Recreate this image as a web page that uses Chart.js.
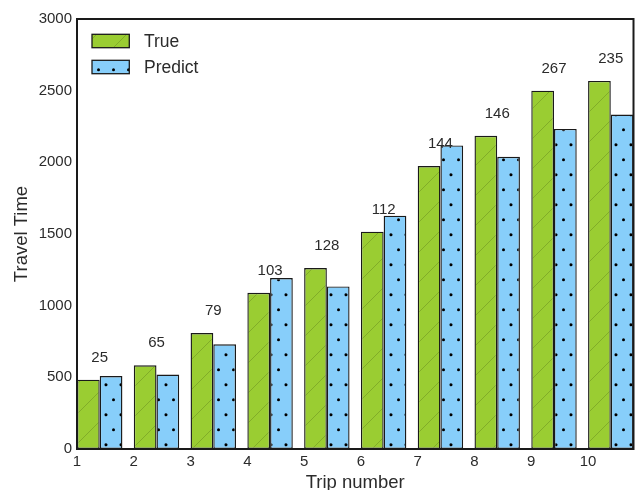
<!DOCTYPE html>
<html>
<head>
<meta charset="utf-8">
<script src="https://cdn.jsdelivr.net/npm/chart.js@4/dist/chart.umd.min.js"></script>
<style>
  html, body { margin: 0; padding: 0; background: #fff; overflow: hidden; }
  #wrap { width: 635px; height: 510px; }
</style>
</head>
<body>
<div id="wrap"><canvas id="chart" width="635" height="510"></canvas></div>
<script>
// Trip numbers and travel times for the measured and predicted runs
const trips = [1, 2, 3, 4, 5, 6, 7, 8, 9, 10];
const trueTimes = [484, 584, 809, 1090, 1262, 1516, 1974, 2185, 2500, 2568];
const predictTimes = [509, 519, 730, 1193, 1134, 1628, 2118, 2039, 2233, 2333];
const seriesNames = ['True', 'Predict'];
const xTitle = 'Trip number';
const yTitle = 'Travel Time';
const yMin = 0, yMax = 3000, yStep = 500;

const FONT = '"Liberation Sans", Arial, sans-serif';
const TEXT = '#2b2b2b';
const EDGE = '#1a1a1a';

// Diagonal "/" hatch over yellow-green
function hatchPattern(ctx) {
  const c = document.createElement('canvas');
  c.width = 30; c.height = 30;
  const g = c.getContext('2d');
  g.fillStyle = '#9ACD32';
  g.fillRect(0, 0, 30, 30);
  g.strokeStyle = 'rgba(0,0,0,0.16)';
  g.lineWidth = 1;
  [-19, 11, 41].forEach(k => {
    g.beginPath();
    g.moveTo(k + 6, -6);
    g.lineTo(-6, k + 6);
    g.stroke();
  });
  return ctx.createPattern(c, 'repeat');
}

// Staggered small dots over light sky blue
function dotPattern(ctx) {
  const c = document.createElement('canvas');
  c.width = 15; c.height = 30;
  const g = c.getContext('2d');
  g.fillStyle = '#87CEFA';
  g.fillRect(0, 0, 15, 30);
  g.fillStyle = '#000';
  const pts = [[1, 24.7], [8.5, 9.7]];
  pts.forEach(([px, py]) => {
    [-15, 0, 15].forEach(dx => {
      g.beginPath();
      g.arc(px + dx, py, 1.5, 0, Math.PI * 2);
      g.fill();
    });
  });
  return ctx.createPattern(c, 'repeat');
}

const canvas = document.getElementById('chart');
const ctx0 = canvas.getContext('2d');
const fills = [hatchPattern(ctx0), dotPattern(ctx0)];

// Bars sit at trip + 0.4 so each pair starts at its trip tick
const toPoints = vals => trips.map((t, i) => ({ x: t + 0.4, y: vals[i] }));

const framePlugin = {
  id: 'frame',
  afterDatasetsDraw(chart) {
    const { ctx, chartArea: a } = chart;
    ctx.save();
    ctx.strokeStyle = EDGE;
    ctx.lineWidth = 2;
    ctx.strokeRect(a.left, a.top, a.right - a.left, a.bottom - a.top);
    ctx.restore();
  }
};

// Absolute gap between measured and predicted time above each pair
const diffLabelPlugin = {
  id: 'diffLabels',
  afterDatasetsDraw(chart) {
    const { ctx, scales: { x, y } } = chart;
    ctx.save();
    ctx.font = '15px ' + FONT;
    ctx.fillStyle = TEXT;
    ctx.textAlign = 'center';
    ctx.textBaseline = 'middle';
    trips.forEach((t, i) => {
      const d = Math.abs(trueTimes[i] - predictTimes[i]);
      ctx.fillText(String(d), x.getPixelForValue(t + 0.4), y.getPixelForValue(trueTimes[i]) - 22);
    });
    ctx.restore();
  }
};

const legendPlugin = {
  id: 'boxLegend',
  afterDraw(chart) {
    const { ctx, chartArea: a } = chart;
    ctx.save();
    seriesNames.forEach((name, i) => {
      const bx = a.left + 15, by = a.top + 15.3 + i * 26, bw = 37.3, bh = 13.4;
      ctx.fillStyle = fills[i];
      ctx.fillRect(bx, by, bw, bh);
      ctx.strokeStyle = EDGE;
      ctx.lineWidth = 1.3;
      ctx.strokeRect(bx, by, bw, bh);
      ctx.fillStyle = TEXT;
      ctx.font = '17.5px ' + FONT;
      ctx.textAlign = 'left';
      ctx.textBaseline = 'middle';
      ctx.fillText(name, a.left + 67, by + bh / 2 + 1);
    });
    ctx.restore();
  }
};

new Chart(canvas, {
  type: 'bar',
  data: {
    datasets: [
      { label: seriesNames[0], data: toPoints(trueTimes), backgroundColor: fills[0],
        borderColor: EDGE, borderWidth: 1.4, borderSkipped: false },
      { label: seriesNames[1], data: toPoints(predictTimes), backgroundColor: fills[1],
        borderColor: EDGE, borderWidth: 1.4, borderSkipped: false }
    ]
  },
  options: {
    responsive: false,
    animation: false,
    devicePixelRatio: 1,
    layout: { padding: { top: 19, right: 1.5, left: 0, bottom: 0 } },
    datasets: { bar: { barPercentage: 1.0, categoryPercentage: 0.8 } },
    plugins: { legend: { display: false }, tooltip: { enabled: false } },
    scales: {
      x: {
        type: 'linear',
        min: 1, max: 10.8,
        offset: false,
        grid: { display: false, drawTicks: false, offset: false },
        border: { display: false },
        ticks: { stepSize: 1, includeBounds: false, padding: 3.5, color: TEXT,
                 font: { family: FONT, size: 15 }, maxRotation: 0, autoSkip: false,
                 callback: v => String(v) },
        title: { display: true, text: xTitle, color: TEXT,
                 font: { family: FONT, size: 18.5 }, padding: { top: 0, bottom: 16.2 } },
        afterFit(scale) { scale.height = 61; }
      },
      y: {
        min: yMin, max: yMax,
        grid: { display: false, drawTicks: false },
        border: { display: false },
        ticks: { stepSize: yStep, padding: 5, color: TEXT, font: { family: FONT, size: 15 },
                 callback: v => String(v) },
        title: { display: true, text: yTitle, color: TEXT,
                 font: { family: FONT, size: 18.5 }, padding: { top: 10.6, bottom: 0 } },
        afterFit(scale) { scale.width = 77; }
      }
    }
  },
  plugins: [framePlugin, diffLabelPlugin, legendPlugin]
});
</script>
</body>
</html>
